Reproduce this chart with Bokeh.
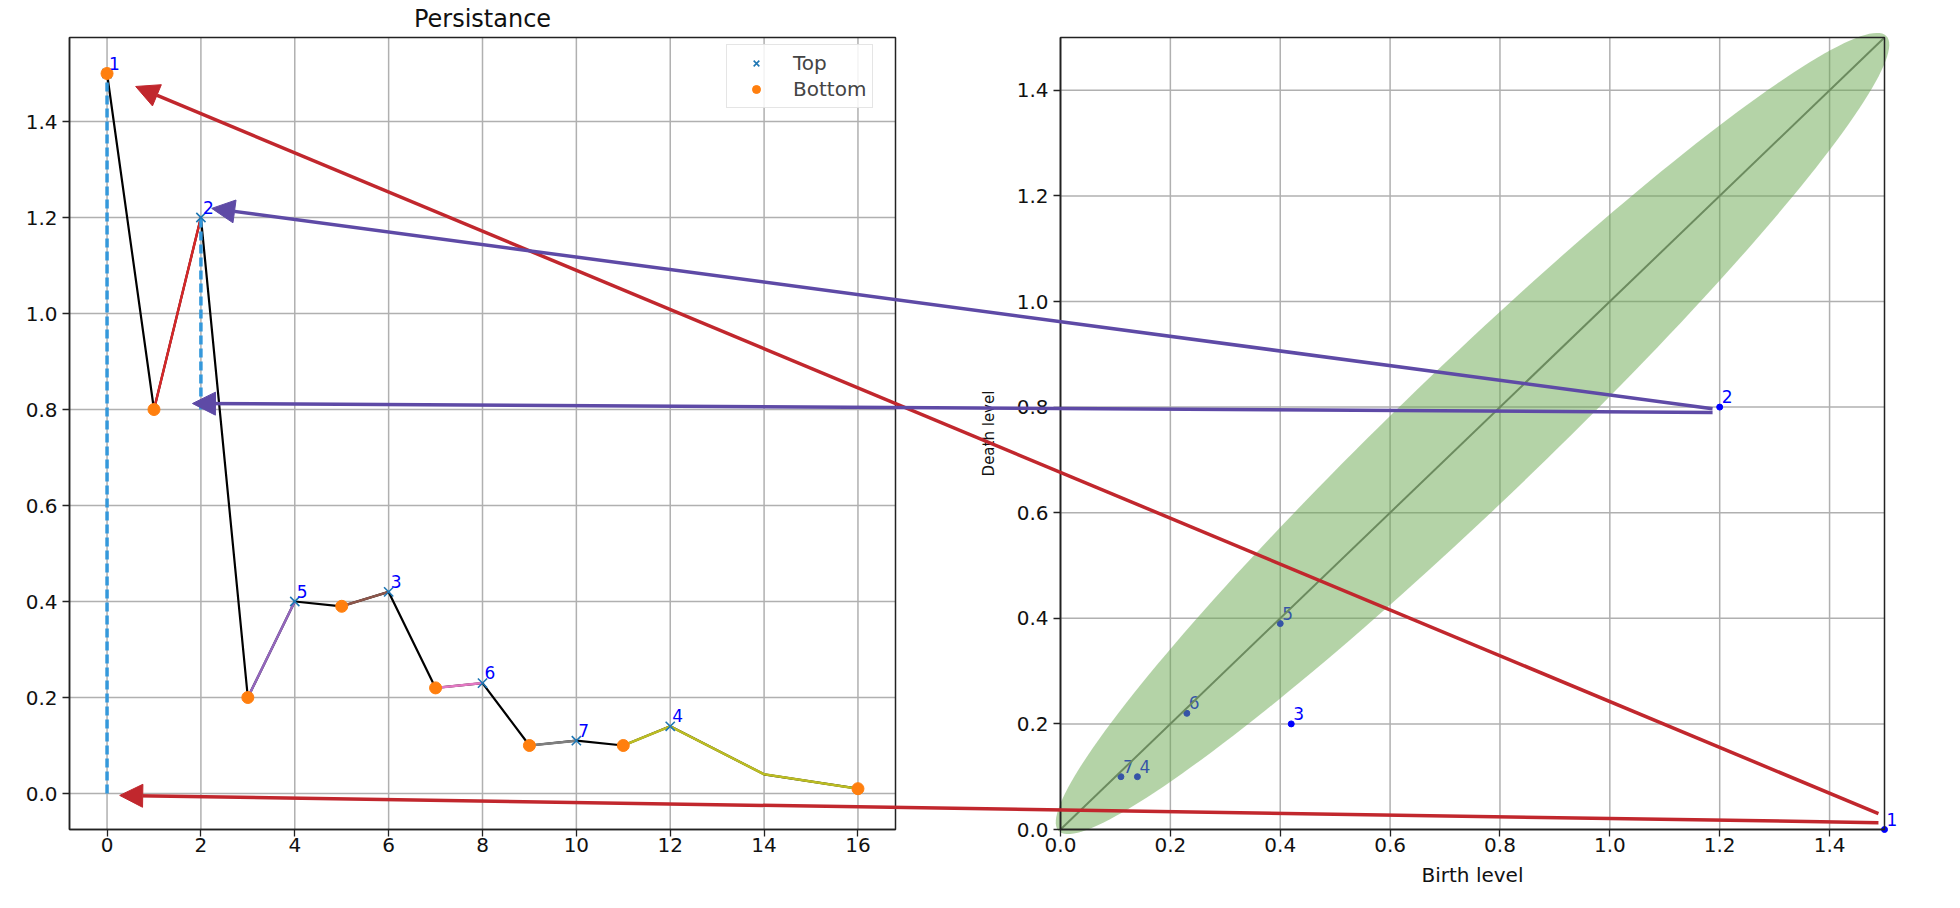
from bokeh.plotting import figure
from bokeh.models import (Range1d, LinearAxis, FixedTicker, Arrow, NormalHead, Label,
                          BoxAnnotation, Legend, LegendItem, PrintfTickFormatter)
from bokeh.embed import file_html
from bokeh.resources import INLINE
import numpy as np

# ---------------- data ----------------
signal_x = [0, 1, 2, 3, 4, 5, 6, 7, 8, 9, 10, 11, 12, 14, 16]
signal_y = [1.5, 0.8, 1.2, 0.2, 0.4, 0.39, 0.42, 0.22, 0.23, 0.10, 0.11, 0.10, 0.14, 0.04, 0.01]
top_x = [0, 2, 4, 6, 8, 10, 12]
bottom_x = [0, 1, 3, 5, 7, 9, 11, 16]
seg_bounds = [(1, 2), (3, 4), (5, 6), (7, 8), (9, 10), (11, 16)]
seg_colors = ["#d62728", "#9467bd", "#8c564b", "#e377c2", "#7f7f7f", "#bcbd22"]

pair_labels = ["1", "2", "3", "4", "5", "6", "7"]
pair_top_x = [0, 2, 6, 12, 4, 8, 10]
birth = [1.5, 1.2, 0.42, 0.14, 0.4, 0.23, 0.11]
death = [0.0, 0.8, 0.2, 0.1, 0.39, 0.22, 0.1]
bar_pairs = [0, 1]

left_xticks = [0, 2, 4, 6, 8, 10, 12, 14, 16]
left_yticks = [0.0, 0.2, 0.4, 0.6, 0.8, 1.0, 1.2, 1.4]
right_ticks = [0.0, 0.2, 0.4, 0.6, 0.8, 1.0, 1.2, 1.4]

# arrows: start in diagram coords, end in signal coords
arrow_from = [(1.489, 0.030), (1.489, 0.013), (1.187, 0.797), (1.187, 0.790)]
arrow_to = [(0.61, 1.473), (0.27, -0.004), (2.23, 1.219), (1.82, 0.8125)]
arrow_colors = ["#c1272d", "#c1272d", "#5e4aa6", "#5e4aa6"]

# ellipse (diagram coords)
ell_center = (0.75, 0.75)
ell_semi = (1.065, 0.13)
ell_angle_deg = 45

# ---------------- layout ----------------
W, H = 1944, 892
XL, YL = (-0.8, 16.8), (-0.075, 1.575)
XR, YR = (0.0, 1.5), (0.0, 1.5)
# subplot pixel boxes in frame coordinates (x from left, y from bottom)
LPX = (69, 895)
RPX = (1060, 1884)
PY = (63, 855)


def span(d0, d1, p0, p1, total):
    ppu = (p1 - p0) / (d1 - d0)
    s = d0 - p0 / ppu
    return Range1d(s, s + total / ppu)


xm = span(XL[0], XL[1], LPX[0], LPX[1], W)
ym = span(YL[0], YL[1], PY[0], PY[1], H)
xr = span(XR[0], XR[1], RPX[0], RPX[1], W)
yr = span(YR[0], YR[1], PY[0], PY[1], H)

p = figure(frame_width=W, frame_height=H, x_range=xm, y_range=ym,
           x_axis_type=None, y_axis_type=None, title=None,
           toolbar_location=None, output_backend="svg",
           min_border=0, outline_line_color=None)
p.extra_x_ranges = {"r": xr}
p.extra_y_ranges = {"r": yr}
p.background_fill_color = "white"
p.border_fill_color = "white"

FONT = "DejaVu Sans"


def style(ax):
    ax.major_label_text_font = FONT
    ax.major_label_text_font_size = "20px"
    ax.major_label_text_color = "#111111"
    ax.major_tick_out = 7
    ax.major_tick_in = 0
    ax.minor_tick_out = 0
    ax.minor_tick_in = 0
    ax.axis_line_width = 1.5
    ax.axis_line_color = "#222222"
    ax.major_tick_line_width = 1.3
    ax.major_tick_line_color = "#222222"
    ax.axis_label_text_font = FONT
    ax.axis_label_text_font_size = "20px"
    ax.axis_label_text_font_style = "normal"
    ax.axis_label_text_color = "#111111"


ax_lx = LinearAxis(ticker=FixedTicker(ticks=left_xticks), fixed_location=YL[0], bounds=XL,
                   major_label_standoff=1)
ax_ly = LinearAxis(ticker=FixedTicker(ticks=left_yticks), fixed_location=XL[0], bounds=YL,
                   formatter=PrintfTickFormatter(format="%.1f"), major_label_standoff=5)
ax_rx = LinearAxis(x_range_name="r", y_range_name="r", ticker=FixedTicker(ticks=right_ticks),
                   fixed_location=0, bounds=XR, formatter=PrintfTickFormatter(format="%.1f"),
                   axis_label="Birth level", major_label_standoff=1, axis_label_standoff=8)
ax_ry = LinearAxis(x_range_name="r", y_range_name="r", ticker=FixedTicker(ticks=right_ticks),
                   fixed_location=0, bounds=YR, formatter=PrintfTickFormatter(format="%.1f"),
                   axis_label="Death level", major_label_standoff=5, axis_label_standoff=16)
for a in (ax_lx, ax_ly, ax_rx, ax_ry):
    style(a)
ax_ry.axis_label_text_font_size = "15px"
p.add_layout(ax_lx, "below")
p.add_layout(ax_ly, "left")
p.add_layout(ax_rx, "below")
p.add_layout(ax_ry, "left")

# grid lines
GRID = dict(line_color="#b0b0b0", line_width=1.5, level="underlay")
p.segment(x0=left_xticks, x1=left_xticks, y0=[YL[0]] * len(left_xticks), y1=[YL[1]] * len(left_xticks), **GRID)
p.segment(x0=[XL[0]] * len(left_yticks), x1=[XL[1]] * len(left_yticks), y0=left_yticks, y1=left_yticks, **GRID)
p.segment(x0=right_ticks, x1=right_ticks, y0=[YR[0]] * len(right_ticks), y1=[YR[1]] * len(right_ticks),
          x_range_name="r", y_range_name="r", **GRID)
p.segment(x0=[XR[0]] * len(right_ticks), x1=[XR[1]] * len(right_ticks), y0=right_ticks, y1=right_ticks,
          x_range_name="r", y_range_name="r", **GRID)

# spines
p.add_layout(BoxAnnotation(left=XL[0], right=XL[1], bottom=YL[0], top=YL[1], fill_color=None,
                           line_color="#222222", line_width=1.5, line_alpha=1))
p.add_layout(BoxAnnotation(left=XR[0], right=XR[1], bottom=YR[0], top=YR[1], fill_color=None,
                           line_color="#222222", line_width=1.5, line_alpha=1,
                           x_range_name="r", y_range_name="r"))

# ---------------- left: signal ----------------
p.line(signal_x, signal_y, line_color="black", line_width=2.2)
for (a, b), c in zip(seg_bounds, seg_colors):
    xs = [x for x in signal_x if a <= x <= b]
    ys = [y for x, y in zip(signal_x, signal_y) if a <= x <= b]
    p.line(xs, ys, line_color=c, line_width=2.5)
for i in bar_pairs:
    p.segment(x0=[pair_top_x[i]], x1=[pair_top_x[i]], y0=[death[i]], y1=[birth[i]],
              line_color="#3498db", line_width=3.5, line_dash="9 4")

sig = dict(zip(signal_x, signal_y))
top_r = p.scatter(top_x, [sig[x] for x in top_x], marker="x", size=13,
                  line_color="#1f77b4", line_width=1.6)
bot_r = p.scatter(bottom_x, [sig[x] for x in bottom_x], marker="circle", size=12,
                  fill_color="#ff7f0e", line_color="#ff7f0e")
p.text(x=pair_top_x, y=birth, text=pair_labels, text_color="blue", text_font_size="17px",
       text_font={"value": FONT}, text_baseline="bottom", x_offset=2, y_offset=-4)

legend = Legend(items=[LegendItem(label="Top", renderers=[top_r]),
                       LegendItem(label="Bottom", renderers=[bot_r])],
                location=(726, 784), label_text_font=FONT, label_text_font_size="20px",
                glyph_width=46, glyph_height=20, label_height=20, label_standoff=14,
                padding=6, spacing=2, margin=0, border_line_color="#cccccc",
                border_line_width=1.2, background_fill_alpha=0.85)
p.add_layout(legend)

p.add_layout(Label(x=(XL[0] + XL[1]) / 2, y=YL[1], y_offset=19, text="Persistance",
                   text_align="center", text_baseline="middle", text_font=FONT,
                   text_font_size="24px", text_color="#111111"))

# ---------------- right: diagram ----------------
p.scatter(birth, death, marker="circle", size=6, color="blue", x_range_name="r", y_range_name="r")
p.text(x=birth, y=death, text=pair_labels, text_color="blue", text_font_size="17px",
       text_font={"value": FONT}, text_baseline="bottom", x_offset=2, y_offset=-4,
       x_range_name="r", y_range_name="r")
p.line([XR[0], XR[1]], [YR[0], YR[1]], line_color="#6e6e6e", line_width=2,
       x_range_name="r", y_range_name="r")
t = np.linspace(0, 2 * np.pi, 200)
ang = np.deg2rad(ell_angle_deg)
ex = ell_center[0] + ell_semi[0] * np.cos(t) * np.cos(ang) - ell_semi[1] * np.sin(t) * np.sin(ang)
ey = ell_center[1] + ell_semi[0] * np.cos(t) * np.sin(ang) + ell_semi[1] * np.sin(t) * np.cos(ang)
p.patch(ex, ey, fill_color="#6aa84f", fill_alpha=0.5, line_color=None,
        x_range_name="r", y_range_name="r")

# ---------------- arrows ----------------
def r2m_x(v):
    return xm.start + (v - xr.start) / (xr.end - xr.start) * (xm.end - xm.start)


def r2m_y(v):
    return ym.start + (v - yr.start) / (yr.end - yr.start) * (ym.end - ym.start)


for (fx, fy), (tx, ty), c in zip(arrow_from, arrow_to, arrow_colors):
    p.add_layout(Arrow(end=NormalHead(size=23, fill_color=c, line_color=c, line_width=1),
                       x_start=r2m_x(fx), y_start=r2m_y(fy), x_end=tx, y_end=ty,
                       line_color=c, line_width=3.5))

open("out.html", "w").write(file_html(p, INLINE))
